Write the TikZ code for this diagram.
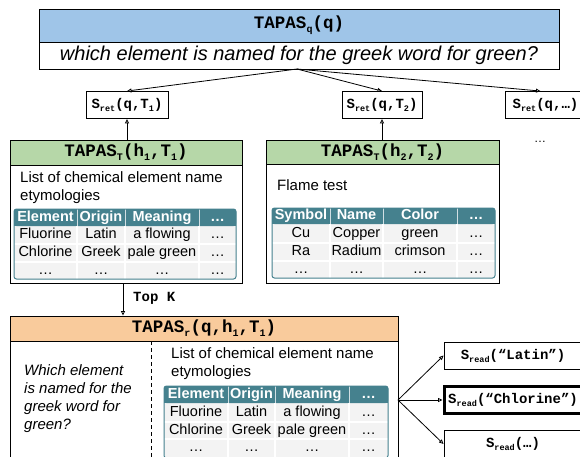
\documentclass[tikz,border=0pt]{standalone}
\usepackage{fontspec}
\setmainfont{Liberation Sans}
\setmonofont{Liberation Mono}
\usetikzlibrary{arrows.meta}
\definecolor{hdrblue}{HTML}{9FC5E8}
\definecolor{hdrgreen}{HTML}{B6D7A8}
\definecolor{hdrorange}{HTML}{F9CB9C}
\definecolor{tealc}{HTML}{45818E}
\definecolor{cellgray}{HTML}{F3F3F3}
\newcommand\hsub[1]{\raisebox{-4pt}{\fontsize{10}{10}\selectfont #1}}
\newcommand\ssub[1]{\raisebox{-3pt}{\fontsize{8.5}{8.5}\selectfont #1}}
\tikzset{
  boxline/.style={draw=black, line width=0.9pt},
  hdrbox/.style={boxline, inner sep=0pt, font=\fontsize{17.5}{20}\selectfont\ttfamily\bfseries},
  bodybox/.style={boxline, fill=white, inner sep=0pt},
  scorebox/.style={boxline, fill=white, inner sep=0pt, minimum height=27pt, font=\fontsize{14}{16}\selectfont\ttfamily\bfseries},
  arr/.style={line width=0.8pt, -{Triangle[open, length=4.5pt, width=4pt]}},
  bodytext/.style={inner sep=0pt, align=left, anchor=north west, font=\fontsize{15}{18}\selectfont},
  th/.style={inner sep=0pt, text height=10.5pt, text depth=3pt, text=white, font=\fontsize{14.5}{16}\selectfont\bfseries},
  td/.style={inner sep=0pt, text height=10.5pt, text depth=3pt, font=\fontsize{14.5}{16}\selectfont},
  gridw/.style={white, line width=1.6pt},
  hsep/.style={white!75!tealc, line width=1pt},
  tblborder/.style={draw=tealc, line width=1pt, rounded corners=2.5pt},
}
\begin{document}
\begin{tikzpicture}[x=1pt, y=-1pt]
\useasboundingbox (0,0) rectangle (580,456);
\clip (0,0) rectangle (580,456);

% ---------- top query box ----------
\node[hdrbox, fill=hdrblue, minimum width=520, minimum height=33] (qhead) at (299,25.5) {TAPAS\hsub{q}(q)};
\node[bodybox, minimum width=520, minimum height=27, font=\fontsize{20}{22}\selectfont\itshape] (qtext) at (299,55.5) {which element is named for the greek word for green?};
\coordinate (qsrc) at (297,69);

% ---------- retrieval scores ----------
\node[scorebox, minimum width=82] (sr1) at (127,105) {S\ssub{ret}(q,T\ssub{1})};
\node[scorebox, minimum width=80] (sr2) at (382,105) {S\ssub{ret}(q,T\ssub{2})};
\node[scorebox, minimum width=80, anchor=west] (sr3) at (505,105) {S\ssub{ret}(q,…)};
\node[inner sep=0pt, font=\fontsize{12}{12}\selectfont] (more) at (540,142) {…};

\draw[arr] (qsrc) -- (sr1.north);
\draw[arr] (qsrc) -- (sr2.north);
\draw[arr] (qsrc) -- ([xshift=-5pt]sr3.north);

% ---------- green table box 1 ----------
\node[hdrbox, fill=hdrgreen, minimum width=232, minimum height=25] (g1h) at (126,152.5) {TAPAS\hsub{T}(h\hsub{1},T\hsub{1})};
\node[bodybox, minimum width=232, minimum height=118] (g1b) at (126,224) {};
\draw[arr] (sr1.south |- g1h.north) -- (sr1.south);
\node[bodytext] (g1t) at (20,171) {List of chemical element name\\etymologies};

% table A
\fill[cellgray, rounded corners=2.5pt] (14,209) rectangle (236,279);
\fill[tealc, rounded corners=2.5pt] (14,209) rectangle (236,226);
\fill[tealc] (14,218) rectangle (236,226);
\foreach \y in {244,262} \draw[gridw] (14,\y) -- (236,\y);
\foreach \x in {77,125,199} \draw[gridw] (\x,226) -- (\x,279);
\foreach \x in {77,125,199} \draw[hsep] (\x,209) -- (\x,226);
\draw[tblborder] (14,209) rectangle (236,279);
\foreach \t/\x [count=\j] in {Element/45.5,Origin/101,Meaning/162,…/217.5}
  \node[th] (a0\j) at (\x,217.5) {\t};
\foreach \t/\x [count=\j] in {Fluorine/45.5,Latin/101,a flowing/162,…/217.5}
  \node[td] (a1\j) at (\x,235) {\t};
\foreach \t/\x [count=\j] in {Chlorine/45.5,Greek/101,pale green/162,…/217.5}
  \node[td] (a2\j) at (\x,253) {\t};
\foreach \t/\x [count=\j] in {…/45.5,…/101,…/162,…/217.5}
  \node[td] (a3\j) at (\x,270.5) {\t};

% ---------- green table box 2 ----------
\node[hdrbox, fill=hdrgreen, minimum width=233, minimum height=24] (g2h) at (382.5,152) {TAPAS\hsub{T}(h\hsub{2},T\hsub{2})};
\node[bodybox, minimum width=233, minimum height=119] (g2b) at (382.5,223.5) {};
\draw[arr] (sr2.south |- g2h.north) -- (sr2.south);
\node[bodytext] (g2t) at (277,179) {Flame test};

% table B
\fill[cellgray, rounded corners=2.5pt] (272,208) rectangle (495,278);
\fill[tealc, rounded corners=2.5pt] (272,208) rectangle (495,224);
\fill[tealc] (272,216) rectangle (495,224);
\foreach \y in {243,261} \draw[gridw] (272,\y) -- (495,\y);
\foreach \x in {330,383,457} \draw[gridw] (\x,224) -- (\x,278);
\foreach \x in {330,383,457} \draw[hsep] (\x,208) -- (\x,224);
\draw[tblborder] (272,208) rectangle (495,278);
\foreach \t/\x [count=\j] in {Symbol/301,Name/356.5,Color/420,…/476}
  \node[th] (b0\j) at (\x,216) {\t};
\foreach \t/\x [count=\j] in {Cu/301,Copper/356.5,green/420,…/476}
  \node[td] (b1\j) at (\x,233.5) {\t};
\foreach \t/\x [count=\j] in {Ra/301,Radium/356.5,crimson/420,…/476}
  \node[td] (b2\j) at (\x,252) {\t};
\foreach \t/\x [count=\j] in {…/301,…/356.5,…/420,…/476}
  \node[td] (b3\j) at (\x,269.5) {\t};

% ---------- reader box ----------
\node[hdrbox, fill=hdrorange, minimum width=388, minimum height=25] (oh) at (204,328.5) {TAPAS\hsub{r}(q,h\hsub{1},T\hsub{1})};
\node[bodybox, minimum width=388, minimum height=130] (ob) at (204,406) {};
\coordinate (tkx) at (123,0);
\draw[arr] (g1b.south -| tkx) -- (oh.north -| tkx);
\node[inner sep=0pt, anchor=west, font=\fontsize{14}{16}\selectfont\ttfamily\bfseries] (topk) at (133,298) {Top K};

\draw[dashed, line width=0.8pt, dash pattern=on 4pt off 3pt] (151,341) -- (151,470);
\node[bodytext, font=\fontsize{15}{18}\selectfont\itshape] (oq) at (24,364) {Which element\\is named for the\\greek word for\\green?};
\node[bodytext] (ot) at (171,347) {List of chemical element name\\etymologies};

% table C
\fill[cellgray, rounded corners=2.5pt] (164,386) rectangle (388,458);
\fill[tealc, rounded corners=2.5pt] (164,386) rectangle (388,403);
\fill[tealc] (164,395) rectangle (388,403);
\foreach \y in {422,439} \draw[gridw] (164,\y) -- (388,\y);
\foreach \x in {228,275,349} \draw[gridw] (\x,403) -- (\x,458);
\foreach \x in {228,275,349} \draw[hsep] (\x,386) -- (\x,403);
\draw[tblborder] (164,386) rectangle (388,458);
\foreach \t/\x [count=\j] in {Element/196,Origin/251.5,Meaning/312,…/368.5}
  \node[th] (c0\j) at (\x,394.5) {\t};
\foreach \t/\x [count=\j] in {Fluorine/196,Latin/251.5,a flowing/312,…/368.5}
  \node[td] (c1\j) at (\x,412.5) {\t};
\foreach \t/\x [count=\j] in {Chlorine/196,Greek/251.5,pale green/312,…/368.5}
  \node[td] (c2\j) at (\x,430.5) {\t};
\foreach \t/\x [count=\j] in {…/196,…/251.5,…/312,…/368.5}
  \node[td] (c3\j) at (\x,448) {\t};

% ---------- reader scores ----------
\node[scorebox, minimum width=138] (rd1) at (513,355.5) {S\ssub{read}(“Latin”)};
\node[scorebox, minimum width=138, line width=3pt] (rd2) at (513,400) {S\ssub{read}(“Chlorine”)};
\node[scorebox, minimum width=138] (rd3) at (513,444) {S\ssub{read}(…)};
\coordinate (ofan) at (398,400);
\draw[arr] (ofan) -- (rd1.west);
\draw[arr] (ofan) -- (rd2.west);
\draw[arr] (ofan) -- (rd3.west);
\end{tikzpicture}
\end{document}
